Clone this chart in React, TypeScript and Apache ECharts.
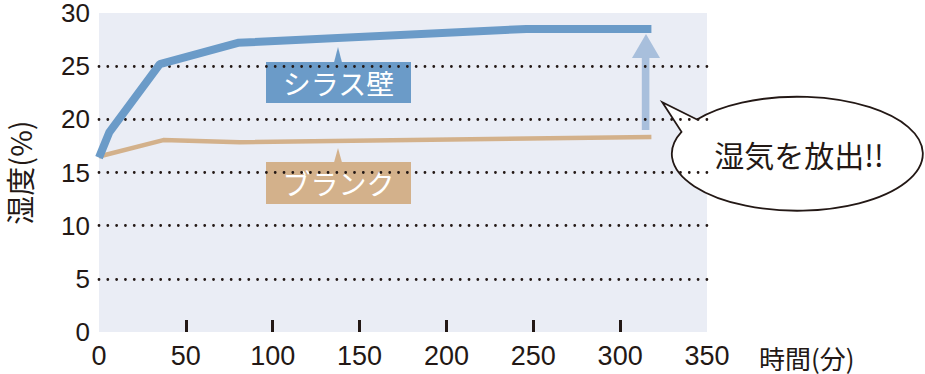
import React, { useEffect, useRef } from "react";
import * as echarts from "echarts";

const timeSirasu = [0, 6, 35, 80, 246, 318];
const humSirasu = [16.4, 18.8, 25.2, 27.2, 28.5, 28.5];
const timeBlank = [0, 37, 81, 318];
const humBlank = [16.5, 18.05, 17.85, 18.35];
const xTicks = [50, 100, 150, 200, 250, 300];
const seriesNames = ["シラス壁", "ブランク"];
const yAxisTitle = "湿度(%)";
const xAxisTitle = "時間(分)";
const calloutText = "湿気を放出!!";

const INK = "#231815";
const BLUE = "#6b9bc8";
const TAN = "#d3b18b";
const ARROW = "#a8bfdc";
const JP = "'Noto Sans CJK JP', 'Noto Sans', sans-serif";
const NUM = "'Liberation Sans', Arial, sans-serif";

const bubblePath =
  "M697 119.5 L662.3 102.3 L681.5 131.8 A125.5 57 0 1 0 697 119.5 Z";
echarts.graphic.registerShape("bubble", echarts.graphic.extendPath(bubblePath, {}) as any);

export default function App() {
  const ref = useRef<HTMLDivElement>(null);
  useEffect(() => {
    if (!ref.current) return;
    const chart = echarts.init(ref.current, null, { renderer: "svg" });
    const option: any = {
      animation: false,
      backgroundColor: "#ffffff",
      grid: {
        left: 99,
        right: 218,
        top: 12,
        bottom: 42,
        show: true,
        backgroundColor: "#eaedf5",
        borderWidth: 0,
      },
      xAxis: {
        type: "value",
        min: 0,
        max: 350,
        interval: 50,
        axisLine: { show: false },
        axisTick: {
          show: true,
          inside: true,
          length: 12,
          customValues: xTicks,
          lineStyle: { color: INK, width: 3 },
        },
        axisLabel: { fontSize: 27, color: INK, fontFamily: NUM, margin: 10 },
        splitLine: { show: false },
      },
      yAxis: {
        type: "value",
        min: 0,
        max: 30,
        interval: 5,
        axisLine: { show: false },
        axisTick: { show: false },
        axisLabel: { fontSize: 26, lineHeight: 22, color: INK, fontFamily: NUM, margin: 9 },
        splitLine: {
          show: true,
          showMinLine: false,
          showMaxLine: false,
          lineStyle: { color: INK, width: 2.8, type: [0.01, 8.8], cap: "round" },
        },
      },
      series: [
        {
          name: seriesNames[0],
          type: "line",
          symbol: "none",
          data: timeSirasu.map((t, i) => [t, humSirasu[i]]),
          lineStyle: { color: BLUE, width: 8 },
          z: 3,
        },
        {
          name: seriesNames[1],
          type: "line",
          symbol: "none",
          data: timeBlank.map((t, i) => [t, humBlank[i]]),
          lineStyle: { color: TAN, width: 4.5 },
          z: 2,
        },
      ],
      graphic: [
        // series label boxes
        { type: "rect", shape: { x: 266, y: 62, width: 145, height: 41 }, style: { fill: BLUE } },
        { type: "polygon", shape: { points: [[334, 62.5], [338, 47], [342, 62.5]] }, style: { fill: BLUE } },
        {
          type: "text", x: 338.5, y: 83,
          style: { text: seriesNames[0], fill: "#fff", fontSize: 28, fontFamily: JP, align: "center", verticalAlign: "middle" },
        },
        { type: "rect", shape: { x: 266, y: 162, width: 145, height: 42 }, style: { fill: TAN } },
        { type: "polygon", shape: { points: [[334, 162.5], [338, 148], [342, 162.5]] }, style: { fill: TAN } },
        {
          type: "text", x: 338.5, y: 183,
          style: { text: seriesNames[1], fill: "#fff", fontSize: 28, fontFamily: JP, align: "center", verticalAlign: "middle" },
        },
        // arrow
        { type: "rect", shape: { x: 641.8, y: 56, width: 7.6, height: 74 }, style: { fill: ARROW } },
        { type: "polygon", shape: { points: [[632, 58], [646, 34], [660, 58]] }, style: { fill: ARROW } },
        // callout bubble
        {
          type: "bubble", x: 0, y: 0, scaleX: 1, scaleY: 1,
          style: { fill: "#fff", stroke: INK, lineWidth: 1.8 },
        },
        {
          type: "text", x: 799, y: 154,
          style: { text: calloutText, fill: INK, fontSize: 30, fontFamily: JP, align: "center", verticalAlign: "middle" },
        },
        // axis titles
        {
          type: "text", x: 19, y: 172.5, rotation: Math.PI / 2,
          style: { text: yAxisTitle, fill: INK, fontSize: 29, lineHeight: 29, fontFamily: JP, align: "center", verticalAlign: "middle" },
        },
        {
          type: "text", x: 759, y: 357,
          style: { text: xAxisTitle, fill: INK, fontSize: 26, fontFamily: JP, align: "left", verticalAlign: "middle" },
        },
      ],
    };
    chart.setOption(option);
    return () => chart.dispose();
  }, []);
  return (
    <div
      ref={ref}
      style={{ position: "fixed", left: 0, top: 0, width: 925, height: 374 }}
    />
  );
}
